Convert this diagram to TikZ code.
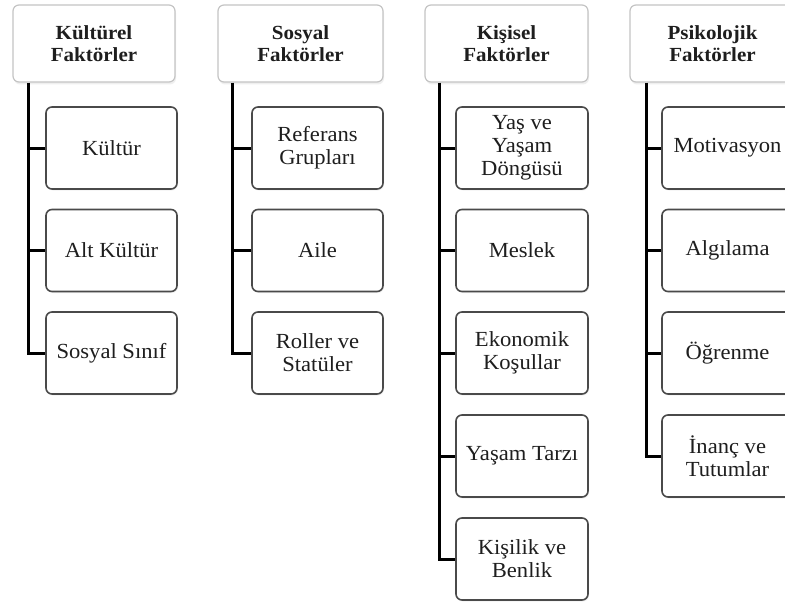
\documentclass[tikz,border=0pt]{standalone}
\usepackage{fontspec}
\setmainfont[FakeStretch=1.05]{Liberation Serif}
\usetikzlibrary{shadows}
\definecolor{topline}{HTML}{C4C4C4}
\definecolor{boxline}{HTML}{4A4A4A}
\definecolor{txt}{HTML}{1E1E1E}
\tikzset{
  headbox/.style={draw=topline, line width=1.2pt, fill=white, rounded corners=6pt,
    minimum width=162pt, minimum height=77pt, inner sep=0pt, align=center,
    text=txt, font=\fontsize{20}{22}\selectfont\bfseries,
    drop shadow={opacity=0.12, shadow xshift=1pt, shadow yshift=-2.5pt}},
  itembox/.style={draw=boxline, line width=1.6pt, fill=white, rounded corners=6pt,
    minimum width=131pt, minimum height=82pt, inner sep=0pt, align=center,
    text=txt, font=\fontsize{21.5}{23}\selectfont,
    drop shadow={opacity=0.10, shadow xshift=1pt, shadow yshift=-1.5pt}},
  conn/.style={draw=black, line width=3pt},
}
\begin{document}
\begin{tikzpicture}[x=1pt, y=-1pt]
\useasboundingbox (0,0) rectangle (785,602);
\clip (0,0) rectangle (785,602);
\fill[white] (0,0) rectangle (785,602);
% header boxes
\node[headbox] (t1) at (94,43.5) {Kültürel\\Faktörler};
\node[headbox, minimum width=165pt] (t2) at (300.5,43.5) {Sosyal\\Faktörler};
\node[headbox, minimum width=163pt] (t3) at (506.5,43.5) {Kişisel\\Faktörler};
\node[headbox, minimum width=165pt] (t4) at (712.5,43.5) {Psikolojik\\Faktörler};
% column 1
\node[itembox] (a1) at (111.5,148) {Kültür};
\node[itembox] (a2) at (111.5,250.5) {Alt Kültür};
\node[itembox] (a3) at (111.5,353) {Sosyal Sınıf};
% column 2
\node[itembox] (b1) at (317.5,148) {Referans\\Grupları};
\node[itembox] (b2) at (317.5,250.5) {Aile};
\node[itembox] (b3) at (317.5,353) {Roller ve\\Statüler};
% column 3
\node[itembox, minimum width=132pt] (c1) at (522,148) {Yaş ve\\Yaşam\\Döngüsü};
\node[itembox, minimum width=132pt] (c2) at (522,250.5) {Meslek};
\node[itembox, minimum width=132pt] (c3) at (522,353) {Ekonomik\\Koşullar};
\node[itembox, minimum width=132pt] (c4) at (522,456) {Yaşam Tarzı};
\node[itembox, minimum width=132pt] (c5) at (522,559) {Kişilik ve\\Benlik};
% column 4
\node[itembox] (d1) at (727.5,148) {Motivasyon};
\node[itembox] (d2) at (727.5,250.5) {Algılama};
\node[itembox] (d3) at (727.5,353) {Öğrenme};
\node[itembox] (d4) at (727.5,456) {İnanç ve\\Tutumlar};
% connectors
\coordinate (l1) at ([xshift=16pt]t1.south west);
\coordinate (l2) at ([xshift=15pt]t2.south west);
\coordinate (l3) at ([xshift=15pt]t3.south west);
\coordinate (l4) at ([xshift=17pt]t4.south west);
\draw[conn] (l1) |- (a3.west);
\draw[conn] (l1 |- a1.west) -- (a1.west);
\draw[conn] (l1 |- a2.west) -- (a2.west);
\draw[conn] (l2) |- (b3.west);
\draw[conn] (l2 |- b1.west) -- (b1.west);
\draw[conn] (l2 |- b2.west) -- (b2.west);
\draw[conn] (l3) |- (c5.west);
\draw[conn] (l3 |- c1.west) -- (c1.west);
\draw[conn] (l3 |- c2.west) -- (c2.west);
\draw[conn] (l3 |- c3.west) -- (c3.west);
\draw[conn] (l3 |- c4.west) -- (c4.west);
\draw[conn] (l4) |- (d4.west);
\draw[conn] (l4 |- d1.west) -- (d1.west);
\draw[conn] (l4 |- d2.west) -- (d2.west);
\draw[conn] (l4 |- d3.west) -- (d3.west);
\end{tikzpicture}
\end{document}
